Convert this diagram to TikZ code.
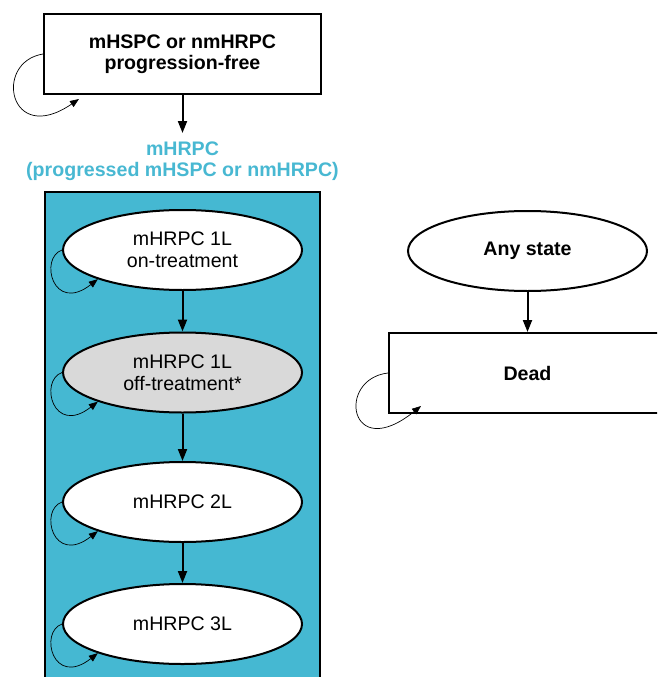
\documentclass[tikz,border=0pt]{standalone}
\usepackage{fontspec}
\setmainfont{Liberation Sans}
\usetikzlibrary{shapes.geometric,arrows.meta,calc}
\definecolor{cyanbg}{RGB}{69,184,210}
\definecolor{cyantext}{RGB}{72,184,210}
\definecolor{grayfill}{RGB}{217,217,217}
\begin{document}
\begin{tikzpicture}[x=1pt,y=-1pt,
  font=\fontsize{19.6}{21.5}\selectfont,
  statell/.style={ellipse, draw, line width=2pt, fill=white, minimum width=239pt, minimum height=80pt, inner sep=0pt, align=center},
  statebox/.style={rectangle, draw, line width=2pt, fill=white, minimum width=277pt, minimum height=80pt, inner sep=0pt, align=center, font=\fontsize{19.6}{21.5}\selectfont\bfseries},
  trans/.style={line width=2pt, -{Triangle[length=12pt,width=9pt]}},
  selfloop/.style={line width=0.7pt, -{Triangle[length=9pt,width=7pt]}}]
\clip (0,0) rectangle (657,677);
\useasboundingbox (0,0) rectangle (657,677);
% cyan group
\draw[line width=2pt, fill=cyanbg] (45,192) rectangle (320,700);
% top state
\node[statebox] (pf) at (182.5,54) {mHSPC or nmHRPC\\progression-free};
\coordinate (lbltop) at (182.5,133);
\node[text=cyantext, font=\fontsize{19.6}{21}\selectfont\bfseries, align=center] (lbl) at (182.5,161) {mHRPC\\(progressed mHSPC or nmHRPC)};
% mHRPC states
\node[statell] (on) at (182.5,250) {mHRPC 1L\\on-treatment};
\node[statell, fill=grayfill] (off) at (182.5,372.5) {mHRPC 1L\\off-treatment*};
\node[statell] (l2) at (182.5,502) {mHRPC 2L};
\node[statell] (l3) at (182.5,624) {mHRPC 3L};
% right side
\node[statell, font=\fontsize{19.6}{21.5}\selectfont\bfseries] (any) at (527.5,251) {Any state};
\node[statebox] (dead) at (527.5,373) {Dead};
% transitions
\draw[trans] (pf) -- (lbltop);
\draw[trans] (on) -- (off);
\draw[trans] (off) -- (l2);
\draw[trans] (l2) -- (l3);
\draw[trans] (any) -- (dead);
% self loops
\draw[selfloop] (pf.west) .. controls +(-50,8) and +(-70,48) .. ($(pf.south west)+(36,4)$);
\draw[selfloop] (dead.west) .. controls +(-52,6) and +(-72,58) .. ($(dead.south west)+(33,-8)$);
\foreach \n in {on,off,l2,l3}{
  \draw[selfloop] (\n.west) .. controls +(-23,8) and +(-45,35) .. (\n.199);
}
\end{tikzpicture}
\end{document}
